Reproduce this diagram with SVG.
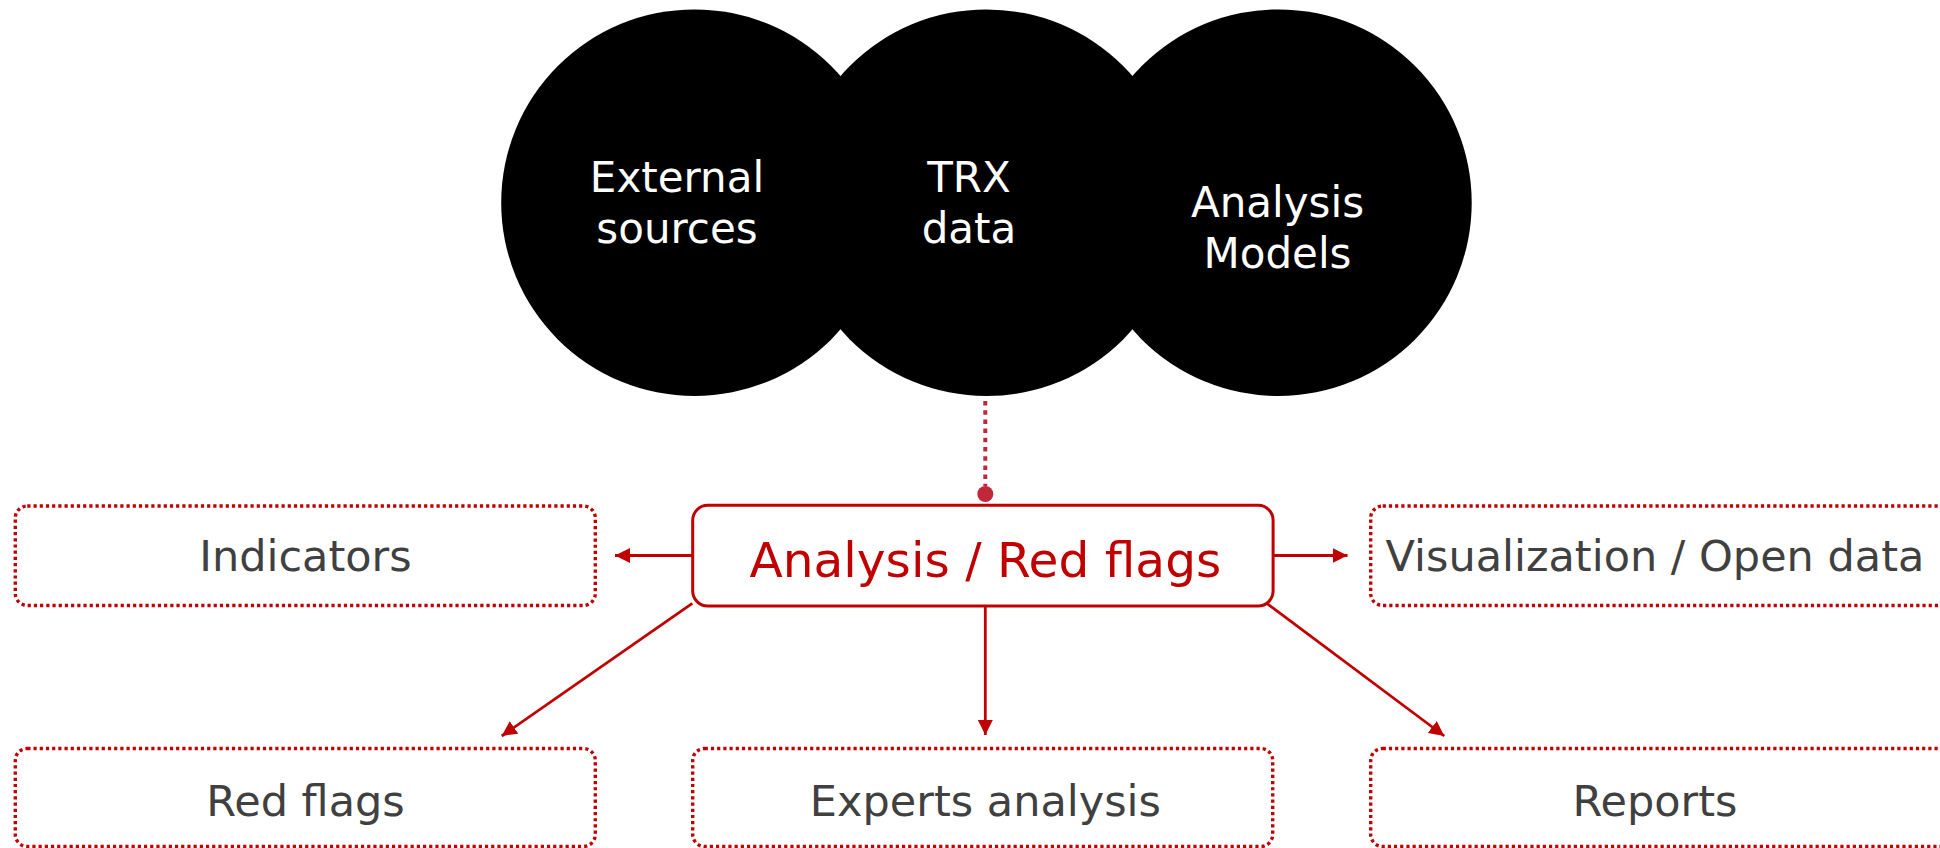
<svg xmlns="http://www.w3.org/2000/svg" width="1940" height="848" viewBox="0 0 1940 848">
<style>
  .circ { fill: #000000; }
  .ctext { font-family: Verdana, "DejaVu Sans", sans-serif; font-size: 42px; fill: #ffffff; text-anchor: middle; }
  .box { fill: #ffffff; stroke: #C00000; stroke-width: 3.4; stroke-dasharray: 3.2 3; }
  .main { fill: #ffffff; stroke: #C00000; stroke-width: 3; }
  .btext { font-family: Verdana, "DejaVu Sans", sans-serif; font-size: 43px; fill: #404040; text-anchor: middle; }
  .mtext { font-family: Verdana, "DejaVu Sans", sans-serif; font-size: 48.6px; fill: #C00000; text-anchor: middle; }
  .conn { stroke: #C00000; stroke-width: 2.8; fill: none; marker-end: url(#arrow); }
  .dotted { stroke: #C0283A; stroke-width: 4; stroke-dasharray: 4.5 4.7; fill: none; }
</style>
<defs>
  <marker id="arrow" markerUnits="userSpaceOnUse" markerWidth="18" markerHeight="16" refX="15" refY="7.5" orient="auto">
    <path d="M0,0 L15,7.5 L0,15 Z" fill="#C00000"/>
  </marker>
</defs>
<rect width="1940" height="848" fill="#ffffff"/>

<g id="node-external-sources">
  <circle class="circ" cx="694.5" cy="202.7" r="193.3"/>
</g>
<g id="node-trx-data">
  <circle class="circ" cx="986.5" cy="202.7" r="193.3"/>
</g>
<g id="node-analysis-models">
  <circle class="circ" cx="1278.4" cy="202.7" r="193.3"/>
</g>
<g id="circle-labels">
  <text class="ctext" x="677" y="192">External</text>
  <text class="ctext" x="677" y="243">sources</text>
  <text class="ctext" x="969" y="192">TRX</text>
  <text class="ctext" x="969" y="243">data</text>
  <text class="ctext" x="1277.5" y="217">Analysis</text>
  <text class="ctext" x="1277.5" y="268">Models</text>
</g>

<g id="connectors">
  <line class="dotted" x1="985.3" y1="401" x2="985.3" y2="486"/>
  <circle cx="985.3" cy="494" r="8" fill="#C0283A"/>
  <line class="conn" x1="692" y1="555.5" x2="615" y2="555.5"/>
  <line class="conn" x1="1274" y1="555.5" x2="1347.5" y2="555.5"/>
  <line class="conn" x1="692.3" y1="603.3" x2="501.7" y2="736"/>
  <line class="conn" x1="985.3" y1="606" x2="985.3" y2="735"/>
  <line class="conn" x1="1266.7" y1="603.3" x2="1444.3" y2="736"/>
</g>

<g id="node-analysis-red-flags">
  <rect class="main" x="692.7" y="505.3" width="580.4" height="100.7" rx="15" ry="15"/>
  <text class="mtext" x="985.4" y="577">Analysis / Red flags</text>
</g>
<g id="node-indicators">
  <rect class="box" x="15.3" y="506" width="580" height="99.5" rx="12" ry="12"/>
  <text class="btext" x="305.5" y="571">Indicators</text>
</g>
<g id="node-visualization">
  <rect class="box" x="1370.7" y="506" width="580" height="99.5" rx="12" ry="12"/>
  <text class="btext" x="1655" y="571">Visualization / Open data</text>
</g>
<g id="node-red-flags">
  <rect class="box" x="15.3" y="748.5" width="580" height="98" rx="12" ry="12"/>
  <text class="btext" x="305.5" y="816">Red flags</text>
</g>
<g id="node-experts-analysis">
  <rect class="box" x="692.7" y="748.5" width="580" height="98" rx="12" ry="12"/>
  <text class="btext" x="985.4" y="816">Experts analysis</text>
</g>
<g id="node-reports">
  <rect class="box" x="1370.7" y="748.5" width="580" height="98" rx="12" ry="12"/>
  <text class="btext" x="1655" y="816">Reports</text>
</g>
</svg>
